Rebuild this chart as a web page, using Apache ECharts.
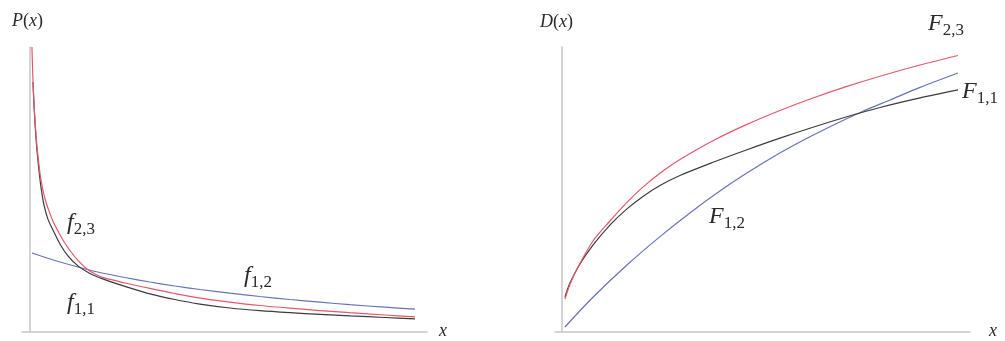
<!DOCTYPE html>
<html>
<head>
<meta charset="utf-8">
<script src="https://cdn.jsdelivr.net/npm/echarts@6/dist/echarts.min.js"></script>
<style>
html,body{margin:0;padding:0;background:#fff;}
#c{width:1005px;height:341px;}
</style>
</head>
<body>
<div id="c"></div>
<script>
// Left panel: densities P(x)  [x, y] in axis units (x: 0..100, y: 0..100)
const f11 = [[0.76,87.7],[1.01,80.0],[1.26,73.7],[1.51,68.4],[1.76,63.9],[2.27,56.8],[2.77,50.9],[3.53,44.6],[4.53,39.6],[5.79,35.8],[7.56,30.9],[9.57,26.7],[12.09,23.2],[15.11,20.5],[17.63,19.0],[20.65,17.5],[23.93,16.0],[30.23,13.4],[36.52,11.4],[42.82,9.79],[50.38,8.42],[57.93,7.47],[65.49,6.77],[73.05,6.18],[80.6,5.65],[89.42,5.09],[96.98,4.63]];
const f23 = [[0.5,100],[0.76,88.4],[1.01,80.7],[1.26,74.7],[1.76,65.3],[2.52,55.8],[3.27,49.8],[4.03,45.6],[4.79,42.5],[5.79,38.9],[6.8,36.1],[8.31,32.3],[10.08,28.6],[12.09,25.1],[14.36,22.1],[16.62,20.2],[18.89,18.9],[21.41,18.1],[23.93,17.2],[30.23,15.3],[36.52,13.5],[42.82,11.9],[50.38,10.5],[57.93,9.3],[65.49,8.35],[73.05,7.51],[80.6,6.77],[89.42,5.96],[96.98,5.33]];
const f12 = [[0.5,27.72],[6.3,25.09],[12.09,22.81],[17.63,20.88],[23.93,19.12],[30.23,17.54],[36.52,16.14],[42.82,14.91],[50.38,13.61],[57.93,12.46],[65.49,11.4],[73.05,10.46],[80.6,9.58],[89.42,8.7],[96.98,8.0]];
// Right panel: distributions D(x)
const F23 = [[0.74,11.58],[1.96,16.67],[3.68,22.11],[7.6,31.93],[11.76,38.95],[15.93,45.51],[19.85,50.84],[24.75,56.46],[28.92,60.53],[37.01,67.12],[45.34,72.84],[53.43,77.72],[61.52,82.11],[69.85,86.18],[77.94,89.75],[87.75,93.68],[97.06,97.02]];
const F11 = [[0.74,12.28],[1.96,17.19],[4.41,23.86],[7.6,30.49],[11.76,37.51],[15.93,43.19],[19.85,47.58],[24.02,51.4],[28.92,54.91],[37.01,59.54],[45.34,63.96],[53.43,68.04],[61.52,71.86],[69.85,75.54],[77.94,78.77],[87.75,82.14],[97.06,84.95]];
const F12 = [[0.74,1.75],[7.6,12.18],[15.93,23.51],[24.02,33.47],[31.37,41.79],[41.18,51.89],[49.26,59.3],[57.6,66.11],[65.69,72.0],[73.77,77.44],[80.39,81.4],[87.75,85.82],[97.06,90.88]];

const AX = '#c6c6c6';
const BLACK = '#3c3c3c', RED = '#e4586c', BLUE = '#6672bc';
const SERIF = '"Liberation Serif","DejaVu Serif",serif';
const INK = '#2a2a2a';

function xAx(i, min){
  return {type:'value', gridIndex:i, min:min, max:100,
    axisLine:{show:true, onZero:true, lineStyle:{color:AX, width:1.5}},
    axisTick:{show:false}, axisLabel:{show:false}, splitLine:{show:false}};
}
function yAx(i){
  return {type:'value', gridIndex:i, min:0, max:100,
    axisLine:{show:true, onZero:true, lineStyle:{color:AX, width:1.5}},
    axisTick:{show:false}, axisLabel:{show:false}, splitLine:{show:false}};
}
function line(data, color, i){
  return {type:'line', xAxisIndex:i, yAxisIndex:i, data:data, smooth:0.3,
    showSymbol:false, silent:true, clip:true,
    lineStyle:{color:color, width:1.2}};
}
const richStyle = {
  i:{fontFamily:SERIF, fontStyle:'italic', fontSize:24, fill:INK, color:INK},
  s:{fontFamily:SERIF, fontSize:17, fill:INK, color:INK, padding:[14,0,0,0]},
  n:{fontFamily:SERIF, fontSize:18, fill:INK, color:INK},
  ni:{fontFamily:SERIF, fontStyle:'italic', fontSize:18, fill:INK, color:INK}
};
function lab(x, y, text){
  return {type:'text', left:x, top:y, silent:true,
    style:{text:text, rich:richStyle, fill:INK}};
}

const chart = echarts.init(document.getElementById('c'), null, {renderer:'canvas'});
chart.setOption({
  animation:false,
  backgroundColor:'#fff',
  grid:[
    {left:22, width:405, top:47, bottom:9},
    {left:555, width:415, top:47, bottom:9}
  ],
  xAxis:[xAx(0,-2), xAx(1,-1.7)],
  yAxis:[yAx(0), yAx(1)],
  series:[
    line(f12, BLUE, 0), line(f11, BLACK, 0), line(f23, RED, 0),
    line(F12, BLUE, 1), line(F11, BLACK, 1), line(F23, RED, 1)
  ],
  graphic:[
    lab(12, 12, '{ni|P}{n|(}{ni|x}{n|)}'),
    lab(540, 13, '{ni|D}{n|(}{ni|x}{n|)}'),
    lab(439, 322, '{ni|x}'),
    lab(989, 322, '{ni|x}'),
    lab(67, 211, '{i|f}{s|2,3}'),
    lab(67, 291, '{i|f}{s|1,1}'),
    lab(244, 264, '{i|f}{s|1,2}'),
    lab(928, 12, '{i|F}{s|2,3}'),
    lab(962, 80, '{i|F}{s|1,1}'),
    lab(709, 205, '{i|F}{s|1,2}')
  ]
});
</script>
</body>
</html>
